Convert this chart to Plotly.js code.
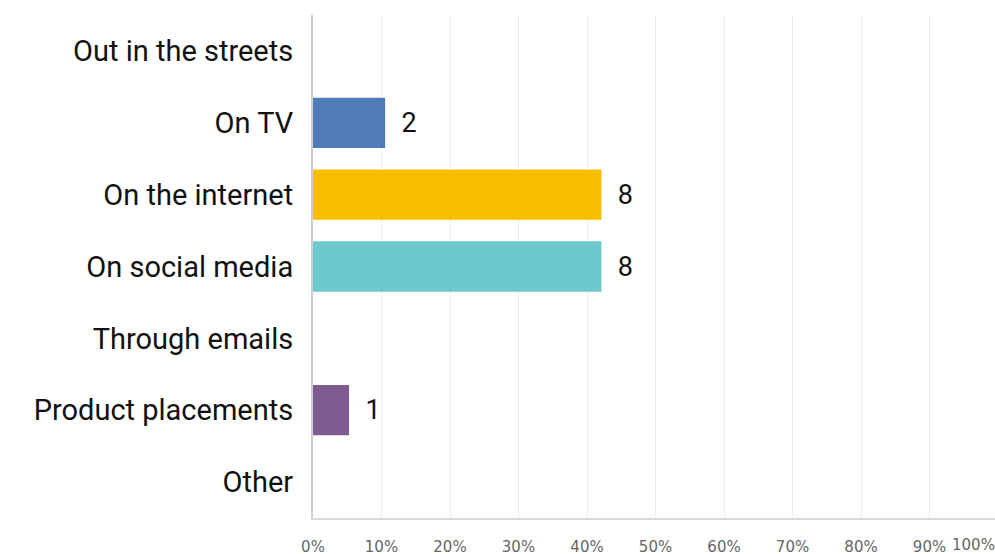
<!DOCTYPE html>
<html>
<head>
<meta charset="utf-8">
<script src="https://cdn.plot.ly/plotly-3.0.1.min.js"></script>
<style>html,body{margin:0;padding:0;background:#fff;}#chart{width:995px;height:554px;}</style>
</head>
<body>
<div id="chart"></div>
<script>
const categories = ["Out in the streets", "On TV", "On the internet", "On social media", "Through emails", "Product placements", "Other"];
const counts = [0, 2, 8, 8, 0, 1, 0];
const totalResponses = 19;
const barColors = ["#6CC9CD", "#4F7BB8", "#F8BF00", "#6CC9CD", "#9a9a9a", "#7D5C91", "#6CC9CD"];
const tickValues = [0, 10, 20, 30, 40, 50, 60, 70, 80, 90];
const tickLabels = ["0%", "10%", "20%", "30%", "40%", "50%", "60%", "70%", "80%", "90%"];
const lastTickLabel = "100%";

const percents = counts.map(c => c / totalResponses * 100);
const labels = counts.map(c => c > 0 ? "\u00a0\u00a0" + c : "");

const trace = {
  type: "bar",
  orientation: "h",
  y: categories,
  x: percents,
  text: labels,
  textposition: "outside",
  cliponaxis: false,
  textfont: {family: "Roboto, Liberation Sans, sans-serif", size: 27, color: "#111"},
  marker: {color: barColors},
  width: 0.7,
  hoverinfo: "skip"
};

const layout = {
  width: 995, height: 554,
  margin: {l: 313, r: 0, t: 15, b: 36},
  paper_bgcolor: "#fff", plot_bgcolor: "#fff",
  showlegend: false,
  xaxis: {
    range: [0, 99.56],
    tickvals: tickValues,
    ticktext: tickLabels,
    ticks: "outside", ticklen: 14, tickcolor: "rgba(0,0,0,0)",
    tickfont: {family: "DejaVu Sans, sans-serif", size: 15, color: "#666"},
    showgrid: true, gridcolor: "#ececec", gridwidth: 1,
    zeroline: false,
    showline: true, linecolor: "#d9d9d9", linewidth: 1.5,
    fixedrange: true
  },
  yaxis: {
    autorange: "reversed",
    ticks: "outside", ticklen: 12, tickcolor: "rgba(0,0,0,0)",
    tickfont: {family: "Roboto, Liberation Sans, sans-serif", size: 29, color: "#111"},
    showline: true, linecolor: "#d0d0d0", linewidth: 2,
    showgrid: false, zeroline: false,
    fixedrange: true
  },
  annotations: [{
    xref: "paper", yref: "paper", x: 0.969, y: 0, yshift: -27,
    xanchor: "center", yanchor: "middle", showarrow: false,
    text: lastTickLabel,
    font: {family: "DejaVu Sans, sans-serif", size: 15, color: "#666"}
  }]
};

Plotly.newPlot("chart", [trace], layout, {displayModeBar: false, staticPlot: true});
</script>
</body>
</html>
